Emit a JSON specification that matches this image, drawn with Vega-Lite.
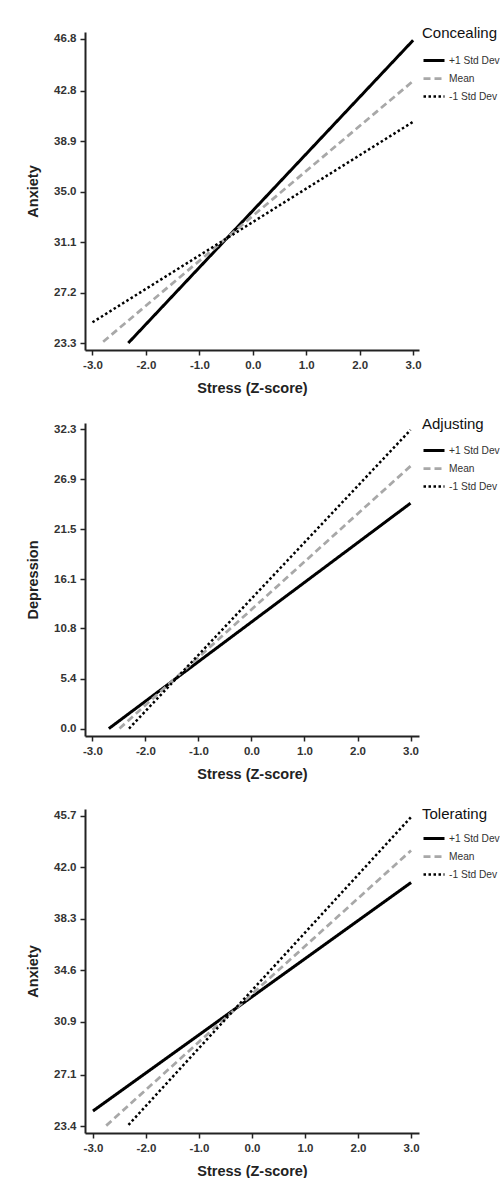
{
  "$schema": "https://vega.github.io/schema/vega-lite/v6.json",
  "background": "white",
  "padding": {"left": 25, "top": 25, "right": 0, "bottom": 0},
  "config": {
    "view": {"stroke": null},
    "font": "Liberation Sans",
    "axis": {
      "grid": false,
      "domainColor": "#222",
      "domainWidth": 2,
      "tickColor": "#222",
      "tickWidth": 1.5,
      "tickSize": 5,
      "labelFont": "Liberation Sans",
      "labelFontWeight": "bold",
      "labelFontSize": 11.5,
      "labelColor": "#333",
      "titleFont": "Liberation Sans",
      "titleFontWeight": "bold",
      "titleFontSize": 14.5,
      "titleColor": "#222"
    },
    "axisX": {"labelPadding": 4, "titlePadding": 11, "labelExpr": "replace(format(datum.value, '.1f'), '\u2212', '-')"},
    "axisY": {"labelPadding": 4, "titlePadding": 13},
    "legend": {
      "orient": "none",
      "padding": 0,
      "titleFont": "Liberation Sans",
      "titleFontSize": 15,
      "titleFontWeight": "normal",
      "titleColor": "#111",
      "labelFont": "Liberation Sans",
      "labelFontSize": 10.2,
      "labelColor": "#333",
      "labelOffset": 3,
      "symbolType": "stroke",
      "symbolSize": 441,
      "rowPadding": -8
    }
  },
  "datasets": {
    "lines": [
      {"panel": "Concealing", "level": "+1 Std Dev", "stress": -2.33, "value": 23.3},
      {"panel": "Concealing", "level": "+1 Std Dev", "stress": 3.0, "value": 46.7},
      {"panel": "Concealing", "level": "Mean", "stress": -2.8, "value": 23.4},
      {"panel": "Concealing", "level": "Mean", "stress": 3.0, "value": 43.55},
      {"panel": "Concealing", "level": "-1 Std Dev", "stress": -3.0, "value": 24.9},
      {"panel": "Concealing", "level": "-1 Std Dev", "stress": 3.0, "value": 40.4},
      {"panel": "Adjusting", "level": "+1 Std Dev", "stress": -2.69, "value": 0.0},
      {"panel": "Adjusting", "level": "+1 Std Dev", "stress": 3.0, "value": 24.3},
      {"panel": "Adjusting", "level": "Mean", "stress": -2.49, "value": 0.0},
      {"panel": "Adjusting", "level": "Mean", "stress": 3.0, "value": 28.3},
      {"panel": "Adjusting", "level": "-1 Std Dev", "stress": -2.31, "value": 0.0},
      {"panel": "Adjusting", "level": "-1 Std Dev", "stress": 3.0, "value": 32.2},
      {"panel": "Tolerating", "level": "+1 Std Dev", "stress": -3.0, "value": 24.5},
      {"panel": "Tolerating", "level": "+1 Std Dev", "stress": 3.0, "value": 40.9},
      {"panel": "Tolerating", "level": "Mean", "stress": -2.75, "value": 23.45},
      {"panel": "Tolerating", "level": "Mean", "stress": 3.0, "value": 43.2},
      {"panel": "Tolerating", "level": "-1 Std Dev", "stress": -2.33, "value": 23.5},
      {"panel": "Tolerating", "level": "-1 Std Dev", "stress": 3.0, "value": 45.6}
    ]
  },
  "bounds": "flush",
  "spacing": 73,
  "resolve": {
    "scale": {"color": "independent", "strokeDash": "independent", "strokeWidth": "independent", "x": "independent", "y": "independent"},
    "legend": {"color": "independent", "strokeDash": "independent", "strokeWidth": "independent"}
  },
  "vconcat": [
    {
      "width": 334,
      "height": 318,
      "data": {"name": "lines"},
      "transform": [{"filter": "datum.panel === 'Concealing'"}],
      "mark": {"type": "line", "strokeCap": "butt"},
      "encoding": {
        "x": {"field": "stress", "type": "quantitative", "title": "Stress (Z-score)",
              "scale": {"domain": [-3.14, 3.11], "nice": false, "zero": false},
              "axis": {"values": [-3, -2, -1, 0, 1, 2, 3]}},
        "y": {"field": "value", "type": "quantitative", "title": "Anxiety",
              "scale": {"domain": [22.76, 47.34], "nice": false, "zero": false},
              "axis": {"values": [23.3, 27.2, 31.1, 35.0, 38.9, 42.8, 46.8], "format": ".1f"}},
        "detail": {"field": "level"},
        "color": {"field": "level", "type": "nominal", "title": "Concealing",
                  "scale": {"domain": ["+1 Std Dev", "Mean", "-1 Std Dev"], "range": ["#000000", "#a8a8a8", "#000000"]},
                  "legend": {"legendX": 337, "legendY": -6.5, "titlePadding": 8}},
        "strokeDash": {"field": "level", "type": "nominal", "title": "Concealing",
                  "scale": {"domain": ["+1 Std Dev", "Mean", "-1 Std Dev"], "range": [[1, 0], [7, 4], [2.5, 2.5]]},
                  "legend": {"legendX": 337, "legendY": -6.5, "titlePadding": 8}},
        "strokeWidth": {"field": "level", "type": "ordinal", "title": "Concealing",
                  "scale": {"domain": ["+1 Std Dev", "Mean", "-1 Std Dev"], "range": [3, 2.5, 3]},
                  "legend": {"legendX": 337, "legendY": -6.5, "titlePadding": 8}}
      }
    },
    {
      "width": 334,
      "height": 313,
      "data": {"name": "lines"},
      "transform": [{"filter": "datum.panel === 'Adjusting'"}],
      "mark": {"type": "line", "strokeCap": "butt"},
      "encoding": {
        "x": {"field": "stress", "type": "quantitative", "title": "Stress (Z-score)",
              "scale": {"domain": [-3.14, 3.16], "nice": false, "zero": false},
              "axis": {"values": [-3, -2, -1, 0, 1, 2, 3]}},
        "y": {"field": "value", "type": "quantitative", "title": "Depression",
              "scale": {"domain": [-0.8, 32.95], "nice": false, "zero": false},
              "axis": {"values": [0.0, 5.4, 10.8, 16.1, 21.5, 26.9, 32.3], "format": ".1f"}},
        "detail": {"field": "level"},
        "color": {"field": "level", "type": "nominal", "title": "Adjusting",
                  "scale": {"domain": ["+1 Std Dev", "Mean", "-1 Std Dev"], "range": ["#000000", "#a8a8a8", "#000000"]},
                  "legend": {"legendX": 337, "legendY": -6.5, "titlePadding": 7}},
        "strokeDash": {"field": "level", "type": "nominal", "title": "Adjusting",
                  "scale": {"domain": ["+1 Std Dev", "Mean", "-1 Std Dev"], "range": [[1, 0], [7, 4], [2.5, 2.5]]},
                  "legend": {"legendX": 337, "legendY": -6.5, "titlePadding": 7}},
        "strokeWidth": {"field": "level", "type": "ordinal", "title": "Adjusting",
                  "scale": {"domain": ["+1 Std Dev", "Mean", "-1 Std Dev"], "range": [3, 2.5, 3]},
                  "legend": {"legendX": 337, "legendY": -6.5, "titlePadding": 7}}
      }
    },
    {
      "width": 334,
      "height": 324,
      "data": {"name": "lines"},
      "transform": [{"filter": "datum.panel === 'Tolerating'"}],
      "mark": {"type": "line", "strokeCap": "butt"},
      "encoding": {
        "x": {"field": "stress", "type": "quantitative", "title": "Stress (Z-score)",
              "scale": {"domain": [-3.15, 3.15], "nice": false, "zero": false},
              "axis": {"values": [-3, -2, -1, 0, 1, 2, 3]}},
        "y": {"field": "value", "type": "quantitative", "title": "Anxiety",
              "scale": {"domain": [22.92, 46.18], "nice": false, "zero": false},
              "axis": {"values": [23.4, 27.1, 30.9, 34.6, 38.3, 42.0, 45.7], "format": ".1f"}},
        "detail": {"field": "level"},
        "color": {"field": "level", "type": "nominal", "title": "Tolerating",
                  "scale": {"domain": ["+1 Std Dev", "Mean", "-1 Std Dev"], "range": ["#000000", "#a8a8a8", "#000000"]},
                  "legend": {"legendX": 337, "legendY": -2.5, "titlePadding": 5}},
        "strokeDash": {"field": "level", "type": "nominal", "title": "Tolerating",
                  "scale": {"domain": ["+1 Std Dev", "Mean", "-1 Std Dev"], "range": [[1, 0], [7, 4], [2.5, 2.5]]},
                  "legend": {"legendX": 337, "legendY": -2.5, "titlePadding": 5}},
        "strokeWidth": {"field": "level", "type": "ordinal", "title": "Tolerating",
                  "scale": {"domain": ["+1 Std Dev", "Mean", "-1 Std Dev"], "range": [3, 2.5, 3]},
                  "legend": {"legendX": 337, "legendY": -2.5, "titlePadding": 5}}
      }
    }
  ]
}
